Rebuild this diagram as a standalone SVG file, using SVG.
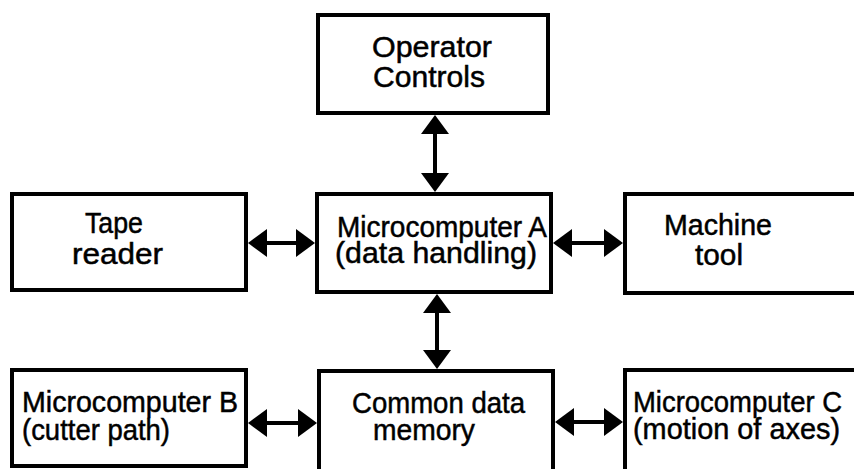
<svg xmlns="http://www.w3.org/2000/svg" width="854" height="469" viewBox="0 0 854 469">
  <style>
    .box { fill: #fff; stroke: #000; stroke-width: 4; }
    .lbl { font-family: "Liberation Sans", Arial, sans-serif; font-size: 30px; fill: #000; stroke: #000; stroke-width: 0.5; }
    .link { stroke: #000; stroke-width: 4; fill: none; marker-start: url(#head); marker-end: url(#head); }
  </style>
  <defs>
    <!-- solid triangular arrowhead; base sits on the line end, tip points outward -->
    <marker id="head" markerUnits="userSpaceOnUse" markerWidth="20" markerHeight="28" refX="0" refY="14" orient="auto-start-reverse" viewBox="0 0 20 28">
      <path d="M0,0 L19,14 L0,28 Z" fill="#000"/>
    </marker>
  </defs>
  <rect width="854" height="469" fill="#fff"/>

  <g id="operator-controls">
    <rect class="box" x="318" y="15" width="230" height="98"/>
    <text class="lbl" x="372" y="57" textLength="120" lengthAdjust="spacingAndGlyphs">Operator</text>
    <text class="lbl" x="373" y="87" textLength="112" lengthAdjust="spacingAndGlyphs">Controls</text>
  </g>

  <g id="tape-reader">
    <rect class="box" x="12" y="194" width="234" height="96"/>
    <text class="lbl" x="85" y="233" textLength="58" lengthAdjust="spacingAndGlyphs">Tape</text>
    <text class="lbl" x="72" y="264" textLength="91" lengthAdjust="spacingAndGlyphs">reader</text>
  </g>

  <g id="microcomputer-a">
    <rect class="box" x="317" y="194" width="234" height="98"/>
    <text class="lbl" x="337" y="237" textLength="210" lengthAdjust="spacingAndGlyphs">Microcomputer A</text>
    <text class="lbl" x="335" y="263" textLength="202" lengthAdjust="spacingAndGlyphs">(data handling)</text>
  </g>

  <g id="machine-tool">
    <rect class="box" x="625" y="194" width="300" height="99"/>
    <text class="lbl" x="664" y="235" textLength="108" lengthAdjust="spacingAndGlyphs">Machine</text>
    <text class="lbl" x="695" y="265" textLength="48" lengthAdjust="spacingAndGlyphs">tool</text>
  </g>

  <g id="microcomputer-b">
    <rect class="box" x="12" y="370" width="234" height="96"/>
    <text class="lbl" x="22" y="412" textLength="216" lengthAdjust="spacingAndGlyphs">Microcomputer B</text>
    <text class="lbl" x="22" y="440" textLength="148" lengthAdjust="spacingAndGlyphs">(cutter path)</text>
  </g>

  <g id="common-data-memory">
    <rect class="box" x="319" y="371" width="234" height="120"/>
    <text class="lbl" x="352" y="413" textLength="173" lengthAdjust="spacingAndGlyphs">Common data</text>
    <text class="lbl" x="373" y="440" textLength="102" lengthAdjust="spacingAndGlyphs">memory</text>
  </g>

  <g id="microcomputer-c">
    <rect class="box" x="625" y="370" width="300" height="120"/>
    <text class="lbl" x="633" y="412" textLength="209" lengthAdjust="spacingAndGlyphs">Microcomputer C</text>
    <text class="lbl" x="633" y="439" textLength="207" lengthAdjust="spacingAndGlyphs">(motion of axes)</text>
  </g>

  <g id="connectors">
    <line class="link" x1="435" y1="134" x2="435" y2="173"/>
    <line class="link" x1="267" y1="243" x2="296" y2="243"/>
    <line class="link" x1="572" y1="243" x2="604" y2="243"/>
    <line class="link" x1="437" y1="313" x2="437" y2="350"/>
    <line class="link" x1="267" y1="423" x2="298" y2="423"/>
    <line class="link" x1="574" y1="422" x2="604" y2="422"/>
  </g>
</svg>
